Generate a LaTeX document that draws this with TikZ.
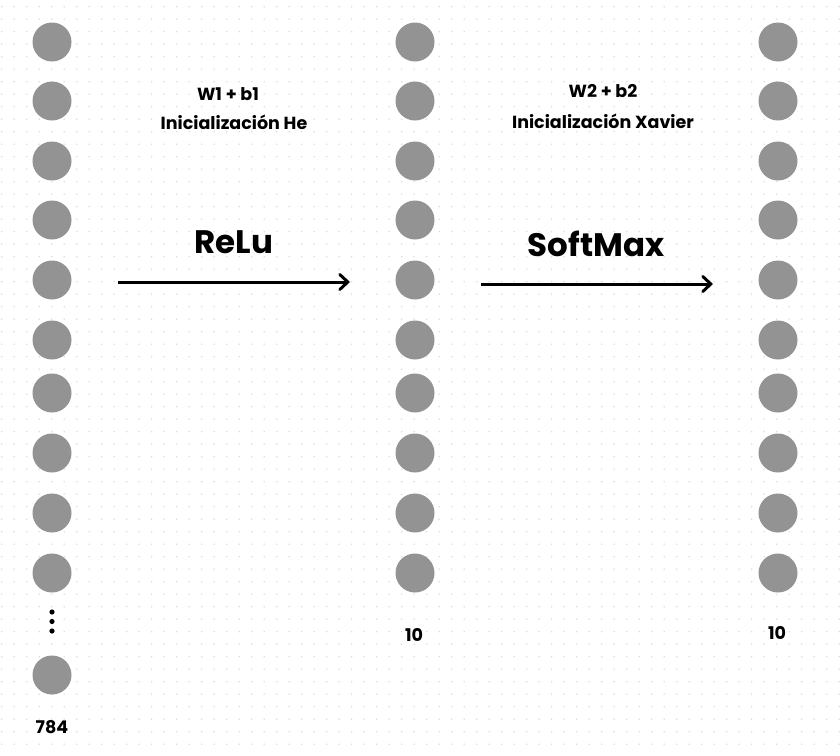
\documentclass[tikz,border=0pt]{standalone}
\usepackage{fontspec}
\setmainfont{Poppins}
\usetikzlibrary{arrows.meta}
\definecolor{neurongray}{HTML}{939393}
\definecolor{griddot}{HTML}{DADADA}
\tikzset{
  neuron/.style={circle, fill=neurongray, minimum size=39pt, inner sep=0pt},
  smalltext/.style={font=\fontsize{17.5}{21}\selectfont\bfseries, inner sep=0pt},
  bigtext/.style={font=\fontsize{32.5}{38}\selectfont\bfseries, inner sep=0pt},
  layerarrow/.style={line width=3pt, -{Straight Barb[length=8pt,width=15pt,line cap=round]}},
}
\begin{document}
\begin{tikzpicture}[x=1pt, y=-1pt]
            \useasboundingbox (0,0) rectangle (840,755);
            \fill[white] (0,0) rectangle (840,755);

            %%dot grid
            \foreach \gx in {0,...,67}
                \foreach \gy in {0,...,60}
                    \fill[griddot] (1.7+12.5*\gx, 6.7+12.5*\gy) circle (0.8pt);

            %%input layer
            \foreach \y [count=\i] in {42,101,161,220,280,340,393,453,513,573}
                \node[neuron] (in\i) at (52,\y) {};
            \foreach \y in {612,621.5,631}
                \fill (52,\y) circle (2.6pt);
            \node[neuron] (inlast) at (52,675) {};
                \node[smalltext] (n784) at (52,727) {784};

            %%hidden layer
            \foreach \y [count=\i] in {42,101,161,220,280,340,393,453,513,573}
                \node[neuron] (hid\i) at (415,\y) {};
                \node[smalltext] (nhid) at (414,635) {10};

            %%output layer
            \foreach \y [count=\i] in {42,101,161,220,280,340,393,453,513,573}
                \node[neuron] (out\i) at (778,\y) {};
                \node[smalltext] (nout) at (777,633) {10};

            %%first step
            \node[smalltext] (w1) at (228,94) {W1 + b1};
            \node[smalltext] (he) at (234,122) {Inicialización He};
            \node[bigtext] (relu) at (234,242) {ReLu};
            \coordinate (r1) at (118,282);
            \coordinate (r2) at (350,282);
            \draw[layerarrow] (r1) -- (r2);

            %%second step
            \node[smalltext] (w2) at (603,91) {W2 + b2};
            \node[smalltext] (xav) at (603,121) {Inicialización Xavier};
            \node[bigtext] (soft) at (596,244) {SoftMax};
            \coordinate (s1) at (481,284);
            \coordinate (s2) at (713,284);
            \draw[layerarrow] (s1) -- (s2);
\end{tikzpicture}
\end{document}
